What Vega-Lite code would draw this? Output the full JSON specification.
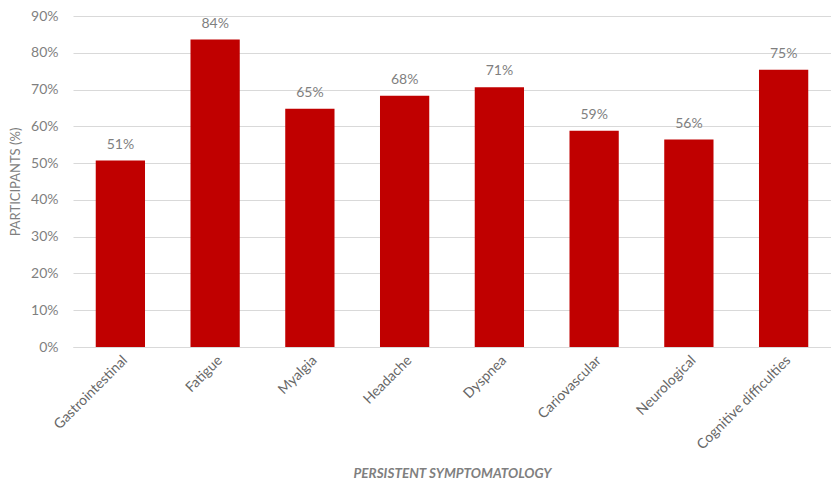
{
  "$schema": "https://vega.github.io/schema/vega-lite/v6.json",
  "width": 758,
  "height": 331,
  "autosize": {"type": "none"},
  "padding": {"left": 73, "top": 16, "right": 0, "bottom": 134},
  "background": "white",
  "config": {
    "view": {"stroke": null},
    "font": "Lato",
    "axis": {"labelFont": "Lato", "titleFont": "Lato"}
  },
  "data": {
    "values": [
      {"symptom": "Gastrointestinal", "pct": 50.7, "label": "51%"},
      {"symptom": "Fatigue", "pct": 83.6, "label": "84%"},
      {"symptom": "Myalgia", "pct": 64.8, "label": "65%"},
      {"symptom": "Headache", "pct": 68.3, "label": "68%"},
      {"symptom": "Dyspnea", "pct": 70.6, "label": "71%"},
      {"symptom": "Cariovascular", "pct": 58.8, "label": "59%"},
      {"symptom": "Neurological", "pct": 56.4, "label": "56%"},
      {"symptom": "Cognitive difficulties", "pct": 75.4, "label": "75%"}
    ]
  },
  "encoding": {
    "x": {
      "field": "symptom",
      "type": "nominal",
      "sort": null,
      "scale": {"paddingInner": 0.48, "paddingOuter": 0.24},
      "axis": {
        "title": "PERSISTENT SYMPTOMATOLOGY",
        "titleFontStyle": "italic",
        "titleFontWeight": "bold",
        "titleColor": "#7f7f7f",
        "titleFontSize": 13.5,
        "titlePadding": 15,
        "labelAngle": -45,
        "labelColor": "#666666",
        "labelFontSize": 14,
        "labelPadding": 6,
        "ticks": false,
        "domain": true,
        "domainColor": "#d9d9d9",
        "domainWidth": 1
      }
    },
    "y": {
      "field": "pct",
      "type": "quantitative",
      "scale": {"domain": [0, 90], "nice": false},
      "axis": {
        "title": "PARTICIPANTS (%)",
        "titleColor": "#7f7f7f",
        "titleFontSize": 13,
        "titleFontWeight": "normal",
        "titlePadding": 8,
        "values": [0, 10, 20, 30, 40, 50, 60, 70, 80, 90],
        "labelExpr": "datum.value + '%'",
        "labelColor": "#7f7f7f",
        "labelFontSize": 14,
        "labelPadding": 15,
        "ticks": false,
        "domain": false,
        "grid": true,
        "gridColor": "#d9d9d9",
        "gridWidth": 1
      }
    }
  },
  "layer": [
    {"mark": {"type": "bar", "color": "#c00000"}},
    {
      "mark": {"type": "text", "baseline": "bottom", "dy": -9, "fontSize": 14, "color": "#7f7f7f", "font": "Lato"},
      "encoding": {"text": {"field": "label"}}
    }
  ]
}
